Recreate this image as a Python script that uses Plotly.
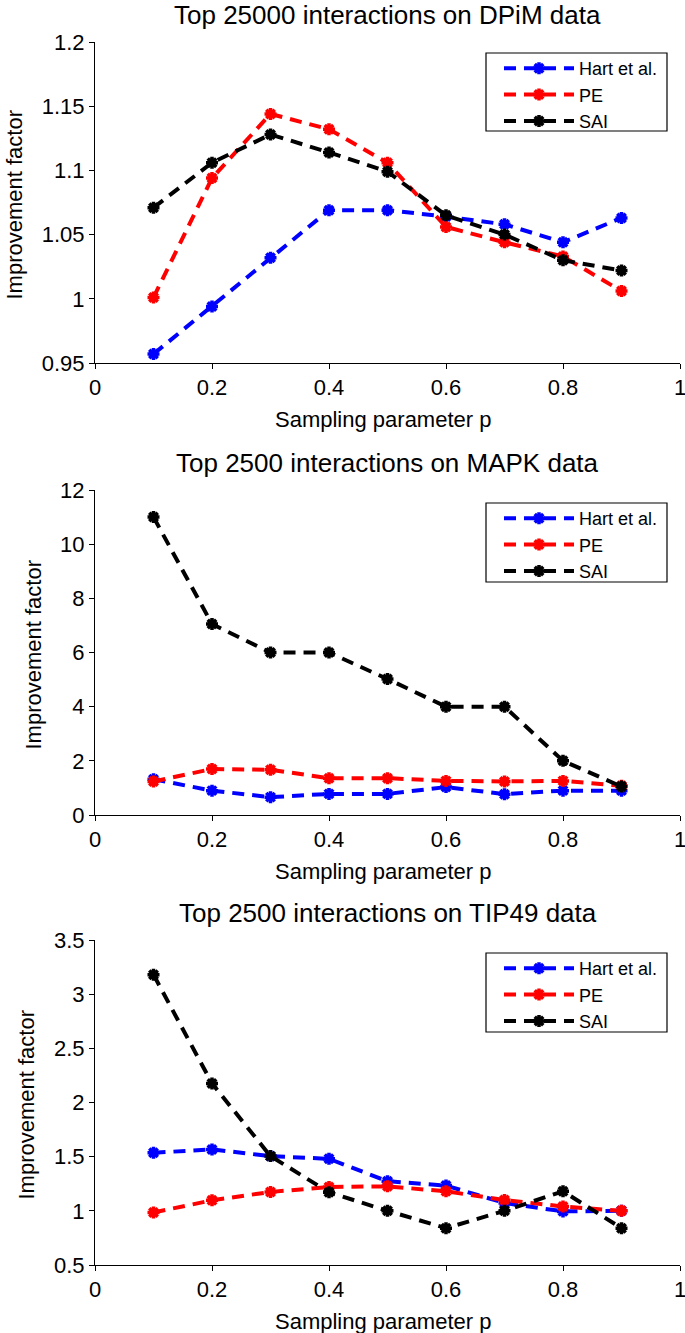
import plotly.graph_objects as go

p = [0.1, 0.2, 0.3, 0.4, 0.5, 0.6, 0.7, 0.8, 0.9]

dpim_hart = [0.957, 0.994, 1.032, 1.069, 1.069, 1.064, 1.058, 1.044, 1.063]
dpim_pe = [1.001, 1.094, 1.144, 1.132, 1.106, 1.056, 1.044, 1.033, 1.006]
dpim_sai = [1.071, 1.106, 1.128, 1.114, 1.099, 1.065, 1.050, 1.030, 1.022]

mapk_hart = [1.32, 0.90, 0.66, 0.78, 0.78, 1.03, 0.77, 0.90, 0.90]
mapk_pe = [1.24, 1.70, 1.67, 1.36, 1.36, 1.26, 1.24, 1.26, 1.08]
mapk_sai = [11.0, 7.05, 6.0, 6.0, 5.02, 4.0, 4.0, 2.0, 1.05]

tip_hart = [1.536, 1.567, 1.505, 1.48, 1.273, 1.233, 1.072, 0.995, 1.0]
tip_pe = [0.985, 1.097, 1.174, 1.22, 1.226, 1.18, 1.10, 1.04, 1.0]
tip_sai = [3.18, 2.176, 1.505, 1.171, 1.0, 0.84, 1.0, 1.18, 0.84]

titles = ["Top 25000 interactions on DPiM data",
          "Top 2500 interactions on MAPK data",
          "Top 2500 interactions on TIP49 data"]
x_title = "Sampling parameter p"
y_title = "Improvement factor"
series_names = ["Hart et al.", "PE", "SAI"]
colors = ["#0000ff", "#ff0000", "#000000"]

x_ticks = [0, 0.2, 0.4, 0.6, 0.8, 1]
x_ticktext = ["0", "0.2", "0.4", "0.6", "0.8", "1"]
y_ticks = [
    ([0.95, 1.0, 1.05, 1.1, 1.15, 1.2], ["0.95", "1", "1.05", "1.1", "1.15", "1.2"]),
    ([0, 2, 4, 6, 8, 10, 12], ["0", "2", "4", "6", "8", "10", "12"]),
    ([0.5, 1, 1.5, 2, 2.5, 3, 3.5], ["0.5", "1", "1.5", "2", "2.5", "3", "3.5"]),
]

panels = [
    [dpim_hart, dpim_pe, dpim_sai],
    [mapk_hart, mapk_pe, mapk_sai],
    [tip_hart, tip_pe, tip_sai],
]

W, H = 685, 1333
OFF = 0  # body margin is removed by the post script below
FONT = "Liberation Sans, Arial, sans-serif"

# target page-pixel geometry
plot_px = [(42, 363), (490, 815), (940, 1265)]
legend_box_px = [(53, 131), (503, 582), (953, 1032)]
ytitle_x_px = [14, 33, 26]
x_left, x_right = 95, 680
box_left, box_right = 486, 667

fig = go.Figure()
layout = dict(
    width=W, height=H,
    margin=dict(l=0, r=0, t=0, b=0, autoexpand=False),
    paper_bgcolor="white", plot_bgcolor="white",
    font=dict(family=FONT, size=17, color="black"),
    annotations=[], shapes=[],
)

def px_x(v):
    return (v - OFF) / W

def px_y(v):
    return 1 - (v - OFF) / H

for i, (data, title) in enumerate(zip(panels, titles)):
    k = "" if i == 0 else str(i + 1)
    leg = "legend" if i == 0 else f"legend{i + 1}"
    for vals, name, c in zip(data, series_names, colors):
        fig.add_trace(go.Scatter(
            x=p, y=vals, name=name, mode="lines+markers",
            line=dict(color=c, width=4, dash="12px,8px"),
            marker=dict(symbol="asterisk-open", size=10, color=c,
                        line=dict(color=c, width=3.5)),
            xaxis="x" + k, yaxis="y" + k, legend=leg,
        ))
    top, bot = plot_px[i]
    tv, tt = y_ticks[i]
    layout["xaxis" + k] = dict(
        domain=[px_x(x_left), px_x(x_right)], anchor="y" + k,
        range=[0, 1], tickvals=x_ticks, ticktext=x_ticktext,
        showline=True, linecolor="black", linewidth=1,
        ticks="outside", ticklen=5, tickcolor="black",
        showgrid=False, zeroline=False, automargin=False,
        tickfont=dict(size=22), ticklabeloverflow="allow",
    )
    layout["yaxis" + k] = dict(
        domain=[px_y(bot), px_y(top)], anchor="x" + k,
        range=[tv[0], tv[-1]], tickvals=tv, ticktext=tt,
        showline=True, linecolor="black", linewidth=1,
        ticks="outside", ticklen=5, tickcolor="black",
        showgrid=False, zeroline=False, automargin=False,
        tickfont=dict(size=22), ticklabeloverflow="allow",
    )
    btop, bbot = legend_box_px[i]
    layout["shapes"].append(dict(
        type="rect", xref="paper", yref="paper",
        x0=px_x(box_left), x1=px_x(box_right), y0=px_y(bbot), y1=px_y(btop),
        line=dict(color="black", width=1.2), fillcolor="white", layer="above",
    ))
    layout[leg] = dict(
        x=px_x(499), y=px_y(btop - 3), xanchor="left", yanchor="top",
        borderwidth=0, bgcolor="rgba(0,0,0,0)",
        font=dict(size=18), itemwidth=70, tracegroupgap=0,
    )
    layout["annotations"].append(dict(
        text=title, x=px_x((x_left + x_right) / 2), y=px_y(top - 27),
        xref="paper", yref="paper", xanchor="center", yanchor="middle",
        showarrow=False, font=dict(size=26),
    ))
    layout["annotations"].append(dict(
        text=x_title, x=px_x(383), y=px_y(bot + 56),
        xref="paper", yref="paper", xanchor="center", yanchor="middle",
        showarrow=False, font=dict(size=22),
    ))
    layout["annotations"].append(dict(
        text=y_title, x=px_x(ytitle_x_px[i]), y=px_y((top + bot) / 2 + 2),
        xref="paper", yref="paper", xanchor="center", yanchor="middle",
        textangle=-90, showarrow=False, font=dict(size=22),
    ))

fig.update_layout(**layout)
fig.write_html(
    "out.html",
    config={"displayModeBar": False},
    post_script="document.body.style.margin='0';document.body.style.overflow='hidden';",
)
